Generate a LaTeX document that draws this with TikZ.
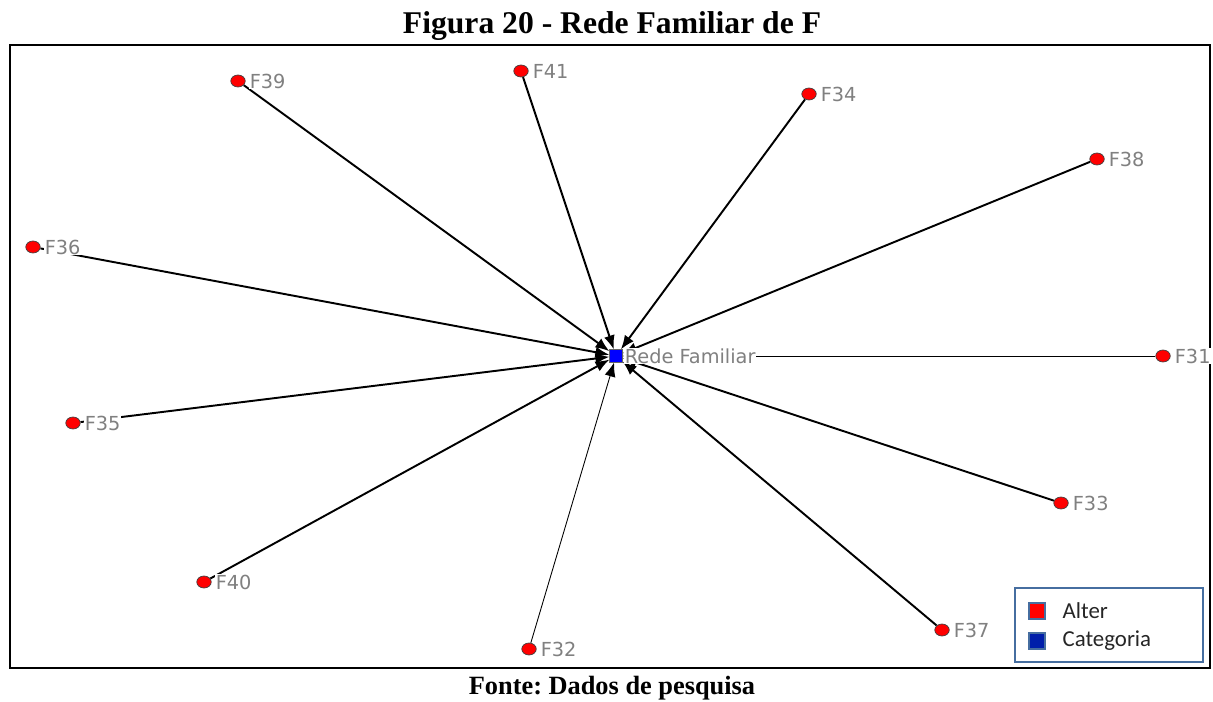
\documentclass[tikz,border=0pt]{standalone}
\usepackage{fontspec}
\setmainfont{Liberation Serif}
\newfontfamily\netfont{DejaVu Sans}
\newfontfamily\keyfont{Carlito}
\usetikzlibrary{shapes.geometric, arrows.meta, positioning, backgrounds}
\frenchspacing

\definecolor{keyblue}{RGB}{70,110,160}
\definecolor{catblue}{RGB}{0,30,170}

\begin{document}
\begin{tikzpicture}[
    x=0.02cm, y=-0.02cm,
    alter/.style={draw=black!75, ellipse, fill=red, minimum width=0.29cm, minimum height=0.24cm, inner sep=0pt,
        label={[altlabel]right:#1}},
    altlabel/.style={font=\netfont\fontsize{11}{13}\selectfont, text=black!50, fill=white, inner sep=0.5pt, label distance=0.06cm},
    category/.style={draw=black!60, fill=blue, minimum size=0.25cm, inner sep=0pt},
    tie/.style={line width=1.1pt, -{Latex[length=2.8mm, width=2.2mm]}},
    thin_tie/.style={line width=0.5pt, -{Latex[length=2.8mm, width=2.2mm]}},
    keybox/.style={draw=keyblue, line width=1.2pt, minimum size=0.33cm, inner sep=0pt},
    keytext/.style={font=\keyfont\fontsize{13}{15}\selectfont, text=black!85, anchor=west, inner sep=0pt}
]
    \useasboundingbox (0,0) rectangle (1213,702);

    % Title and source
    \node[font=\bfseries\fontsize{18}{20}\selectfont] (title) at (612,26) {Figura 20 - Rede Familiar de F};
    \node[font=\bfseries\fontsize{15}{17}\selectfont] (source) at (612,688) {Fonte: Dados de pesquisa};

    % Frame
    \draw[line width=1.2pt] (10,45) rectangle (1210,668);

    % Category
    \node[category, label={[altlabel, label distance=0.02cm]right:Rede Familiar}] (rede) at (616,356) {};

    % Alters
    \node[alter=F39] (f39) at (238,81) {};
    \node[alter=F41] (f41) at (521,71) {};
    \node[alter=F34] (f34) at (809,94) {};
    \node[alter=F38] (f38) at (1097,159) {};
    \node[alter=F36] (f36) at (33,247) {};
    \node[alter=F31] (f31) at (1163,356) {};
    \node[alter=F35] (f35) at (73,423) {};
    \node[alter=F33] (f33) at (1061,503) {};
    \node[alter=F40] (f40) at (204,582) {};
    \node[alter=F32] (f32) at (529,649) {};
    \node[alter=F37] (f37) at (942,630) {};

    % Ties to the category
    \begin{scope}[on background layer]
        \draw[tie] (f39) -- (rede);
        \draw[tie] (f41) -- (rede);
        \draw[tie] (f34) -- (rede);
        \draw[tie] (f38) -- (rede);
        \draw[tie] (f36) -- (rede);
        \draw[thin_tie] (f31) -- (rede);
        \draw[tie] (f35) -- (rede);
        \draw[tie] (f33) -- (rede);
        \draw[tie] (f40) -- (rede);
        \draw[thin_tie] (f32) -- (rede);
        \draw[tie] (f37) -- (rede);
    \end{scope}

    % Legend
    \node[draw=keyblue, line width=1.2pt, fill=white, minimum width=3.76cm, minimum height=1.48cm] (legend) at (1109,625) {};
    \node[keybox, fill=red] (key_alter) at (1037,611) {};
    \node[keybox, fill=catblue] (key_cat) at (1037,641) {};
    \node[keytext, right=0.32cm of key_alter] (alter_text) {Alter};
    \node[keytext, right=0.32cm of key_cat] (cat_text) {Categoria};

\end{tikzpicture}
\end{document}
